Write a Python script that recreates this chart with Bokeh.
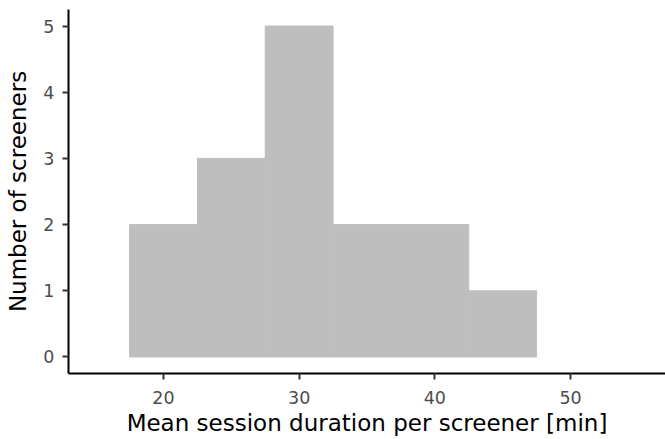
from bokeh.plotting import figure
from bokeh.models import Range1d, FixedTicker
from bokeh.embed import file_html
from bokeh.resources import INLINE

# Data: histogram of mean session duration (bin width 5)
bin_centers = [20, 25, 30, 35, 40, 45]
counts = [2, 3, 5, 2, 2, 1]
bin_width = 5
x_ticks = [20, 30, 40, 50]
y_ticks = [0, 1, 2, 3, 4, 5]

lefts = [c - bin_width / 2 for c in bin_centers]
rights = [c + bin_width / 2 for c in bin_centers]

p = figure(width=665, height=439, output_backend="svg", toolbar_location=None,
           x_range=Range1d(13, 57), y_range=Range1d(-0.25, 5.25),
           min_border_left=68, min_border_right=0, min_border_top=9, min_border_bottom=66)

p.quad(left=lefts, right=rights, bottom=0, top=counts,
       fill_color="#bebebe", line_color="#bebebe", line_width=1)

p.outline_line_color = None
p.xgrid.visible = False
p.ygrid.visible = False
p.background_fill_color = "white"
p.border_fill_color = "white"

p.xaxis.ticker = FixedTicker(ticks=x_ticks)
p.yaxis.ticker = FixedTicker(ticks=y_ticks)
p.xaxis.axis_label = "Mean session duration per screener [min]"
p.yaxis.axis_label = "Number of screeners"

for ax in (p.xaxis, p.yaxis):
    ax.axis_line_color = "black"
    ax.axis_line_width = 2
    ax.major_tick_line_color = "#333333"
    ax.major_tick_line_width = 2
    ax.major_tick_in = 0
    ax.major_tick_out = 6
    ax.minor_tick_line_color = None
    ax.major_label_text_font = "DejaVu Sans"
    ax.major_label_text_font_size = "17.5px"
    ax.major_label_text_color = "#4d4d4d"
    ax.axis_label_text_font = "DejaVu Sans"
    ax.axis_label_text_font_size = "23px"
    ax.axis_label_text_font_style = "normal"
    ax.axis_label_text_color = "black"

p.xaxis.major_label_standoff = 11
p.xaxis.axis_label_standoff = 3
p.yaxis.major_label_standoff = 8
p.yaxis.axis_label_standoff = 9

open("out.html", "w").write(file_html(p, INLINE))
